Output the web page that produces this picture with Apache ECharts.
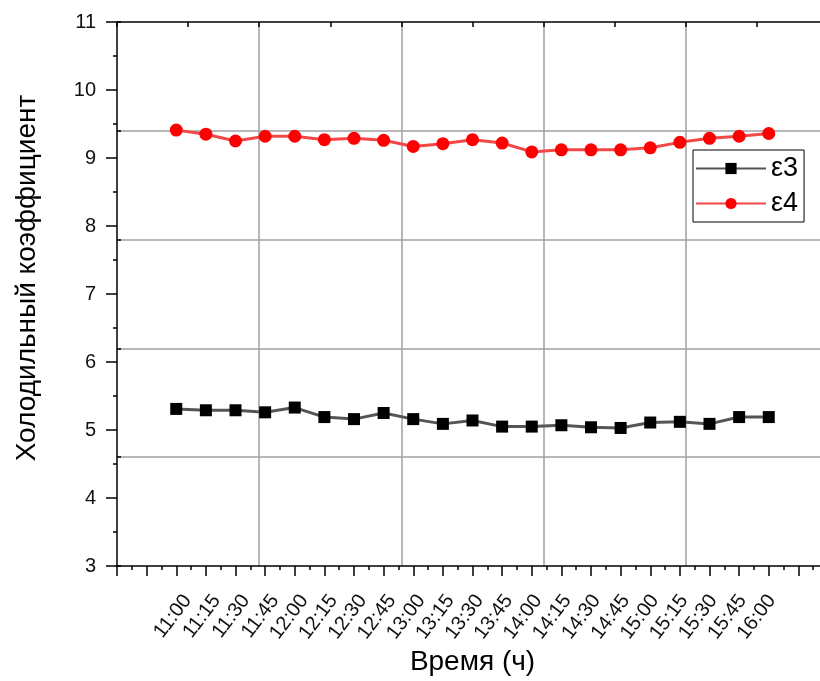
<!DOCTYPE html>
<html>
<head>
<meta charset="utf-8">
<script src="https://cdn.jsdelivr.net/npm/echarts@6/dist/echarts.min.js"></script>
<style>html,body{margin:0;padding:0;background:#fff;overflow:hidden;width:820px;height:681px}#c{width:832px;height:681px}</style>
</head>
<body>
<div id="c"></div>
<script>
// Time categories (15-minute steps)
const times = ['11:00','11:15','11:30','11:45','12:00','12:15','12:30','12:45','13:00','13:15','13:30','13:45','14:00','14:15','14:30','14:45','15:00','15:15','15:30','15:45','16:00'];
// ε3 series
const eps3 = [5.31,5.29,5.29,5.26,5.33,5.19,5.16,5.25,5.16,5.09,5.14,5.05,5.05,5.07,5.04,5.03,5.11,5.12,5.09,5.19,5.19];
// ε4 series
const eps4 = [9.41,9.35,9.25,9.32,9.32,9.27,9.29,9.26,9.17,9.21,9.27,9.22,9.09,9.12,9.12,9.12,9.15,9.23,9.29,9.32,9.36];
const seriesNames = ['ε3','ε4'];
// x axis: two empty 15-min slots before 11:00 and after 16:00
const PAD = 2;
const X_MAX = times.length - 1 + 2 * PAD;

const FONT = 'Liberation Sans, Arial, sans-serif';
const chart = echarts.init(document.getElementById('c'), null, {renderer: 'canvas', width: 832, height: 681});
const grayGrid = {show: true, showMinLine: false, showMaxLine: false, lineStyle: {color: '#a0a0a0', width: 1.5}};
const blackLine = {show: true, lineStyle: {color: '#000', width: 1.5}};

chart.setOption({
  backgroundColor: '#fff',
  textStyle: {fontFamily: FONT},
  animation: false,
  grid: [
    {left: 117, width: 711, top: 22, height: 548, containLabel: false},
    {left: 129, width: 711, top: 22, height: 548, containLabel: false}
  ],
  legend: {
    orient: 'vertical', left: 693, top: 150,
    padding: [5, 6, 5, 2], itemGap: 8,
    itemWidth: 70, itemHeight: 14,
    borderColor: '#000', borderWidth: 1, backgroundColor: '#fff',
    textStyle: {fontSize: 27, color: '#000', fontFamily: FONT},
    data: seriesNames
  },
  xAxis: [
    {
      gridIndex: 0, type: 'value', min: 0, max: X_MAX, interval: 1, position: 'bottom',
      axisLine: blackLine,
      axisTick: {show: true, length: 10, lineStyle: {color: '#000', width: 1.5}},
      minorTick: {show: true, splitNumber: 2, length: 4, lineStyle: {color: '#000', width: 1.5}},
      axisLabel: {show: false}, splitLine: {show: false},
      name: 'Время (ч)', nameLocation: 'middle', nameGap: 82,
      nameTextStyle: {fontSize: 28, color: '#000', fontFamily: FONT}
    },
    {
      gridIndex: 0, type: 'value', min: 0, max: 5, interval: 1, position: 'top',
      axisLine: blackLine,
      axisTick: {show: true, inside: true, length: 5, lineStyle: {color: '#000', width: 1.5}},
      minorTick: {show: true, splitNumber: 2, length: 5, lineStyle: {color: '#000', width: 1.5}},
      axisLabel: {show: false}, splitLine: grayGrid
    },
    {
      gridIndex: 1, type: 'value', min: 0, max: X_MAX, interval: 1, position: 'bottom',
      axisLine: {show: false}, axisTick: {show: false}, splitLine: {show: false},
      axisLabel: {
        show: true, rotate: 53, margin: 27, fontSize: 20, color: '#111', fontFamily: FONT,
        formatter: v => times[v - PAD] || ''
      }
    }
  ],
  yAxis: [
    {
      gridIndex: 0, type: 'value', min: 3, max: 11, interval: 1, position: 'left',
      axisLine: blackLine,
      axisTick: {show: true, length: 11, lineStyle: {color: '#000', width: 1.5}},
      minorTick: {show: true, splitNumber: 2, length: 4, lineStyle: {color: '#000', width: 1.5}},
      axisLabel: {fontSize: 20, margin: 21, color: '#111', fontFamily: FONT},
      splitLine: {show: false},
      name: 'Холодильный коэффициент', nameLocation: 'middle', nameGap: 76, nameRotate: 90,
      nameTextStyle: {fontSize: 28, color: '#000', fontFamily: FONT, padding: [0, 0, 0, 32]}
    },
    {
      gridIndex: 0, type: 'value', min: 0, max: 5, interval: 1, position: 'left',
      axisLine: {show: false},
      axisTick: {show: true, inside: true, length: 4, lineStyle: {color: '#000', width: 1.5}},
      axisLabel: {show: false}, splitLine: grayGrid
    },
    {gridIndex: 1, type: 'value', min: 3, max: 11, show: false}
  ],
  series: [
    {
      name: seriesNames[0], type: 'line', xAxisIndex: 0, yAxisIndex: 0,
      data: eps3.map((v, i) => [i + PAD, v]),
      symbol: 'rect', symbolSize: 12,
      itemStyle: {color: '#000'},
      lineStyle: {color: '#555', width: 3},
      z: 3
    },
    {
      name: seriesNames[1], type: 'line', xAxisIndex: 0, yAxisIndex: 0,
      data: eps4.map((v, i) => [i + PAD, v]),
      symbol: 'circle', symbolSize: 13,
      itemStyle: {color: '#ff0000'},
      lineStyle: {color: '#f44848', width: 3},
      z: 3
    }
  ]
});
</script>
</body>
</html>
